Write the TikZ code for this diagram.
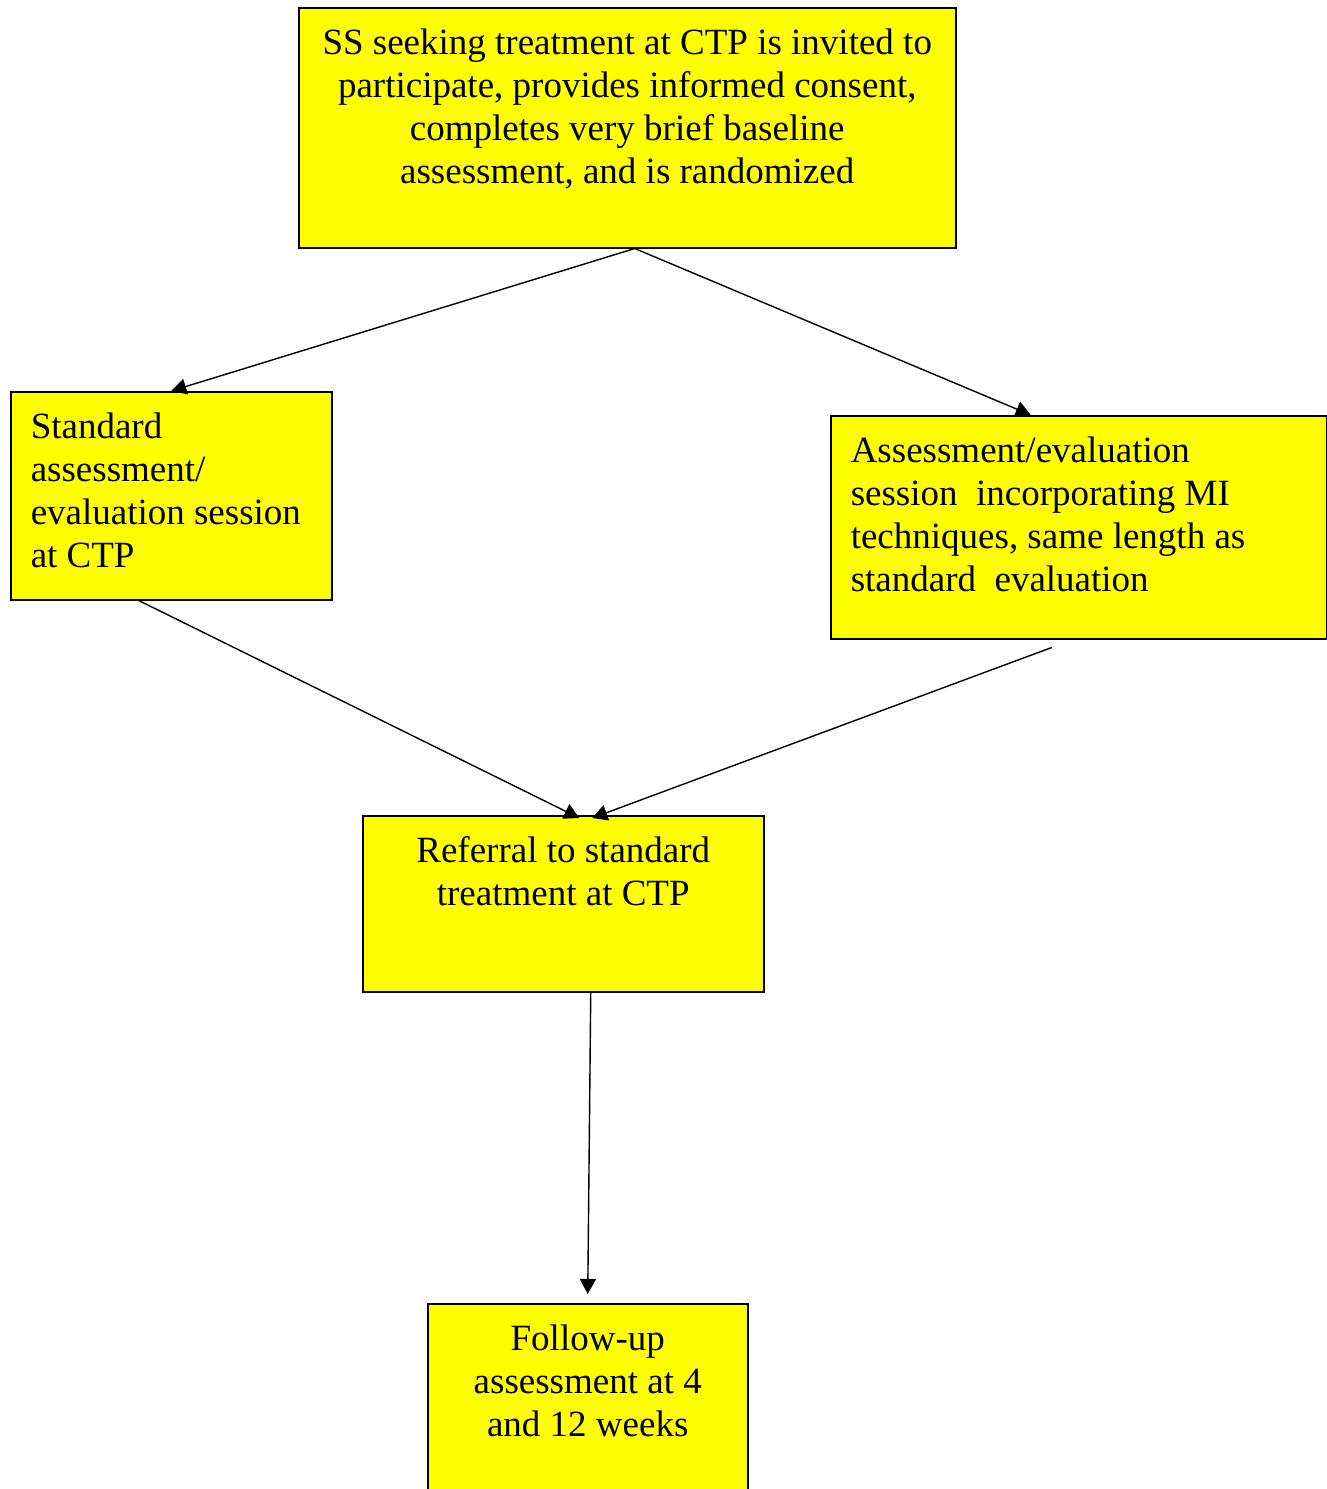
\documentclass[tikz,border=0pt]{standalone}
\usepackage{fontspec}
\setmainfont{Liberation Serif}
\usetikzlibrary{arrows.meta}

% text blocks inside the boxes (width, height, text)
\newcommand{\ctext}[3]{\parbox[c][#2][t]{#1}{\centering\vspace*{8.4pt}\strut #3}}
\newcommand{\ltext}[3]{\parbox[c][#2][t]{#1}{\raggedright\leftskip=10pt\vspace*{8.4pt}\strut #3}}

\begin{document}
\begin{tikzpicture}[x=0.5pt, y=-0.5pt,
  box/.style={draw, line width=0.75pt, fill={rgb,1:red,1;green,1;blue,0}, inner sep=0pt, anchor=north west},
  arr/.style={-{Triangle[length=7.5pt,width=8pt]}, line width=0.7pt},
  font=\fontsize{18.5}{21.5}\selectfont]
\clip (0,0) rectangle (1327,1489);

\node[box] (start) at (298,7) {\ctext{328.5pt}{120pt}{SS seeking treatment at CTP is invited to\\ participate, provides informed consent,\\ completes very brief baseline\\ assessment, and is randomized}};

\node[box] (std) at (10,391) {\ltext{160.5pt}{104pt}{Standard\\ assessment/\\ evaluation session\\ at CTP}};
\node[box] (mi) at (830,415) {\ltext{248pt}{111.5pt}{Assessment/evaluation\\ session\ \ incorporating MI\\ techniques, same length as\\ standard\ \ evaluation}};

\node[box] (ref) at (362,815) {\ctext{200.5pt}{88pt}{Referral to standard\\ treatment at CTP}};

\node[box] (fol) at (427,1303) {\ctext{160pt}{110pt}{Follow-up\\ assessment at 4\\ and 12 weeks}};

% connectors
\draw[arr] ([xshift=3.75pt]start.south) -- (std.north);
\draw[arr] ([xshift=3.75pt]start.south) -- ([xshift=-24pt]mi.north);
\draw[arr] ([xshift=-16.25pt]std.south) -- ([xshift=8pt,yshift=-1.5pt]ref.north);
\draw[arr] ([xshift=-13.5pt,yshift=-4pt]mi.south) -- ([xshift=14.5pt,yshift=-1.5pt]ref.north);
\draw[arr] ([xshift=13.75pt]ref.south) -- ([yshift=4.5pt]fol.north);

\end{tikzpicture}
\end{document}
